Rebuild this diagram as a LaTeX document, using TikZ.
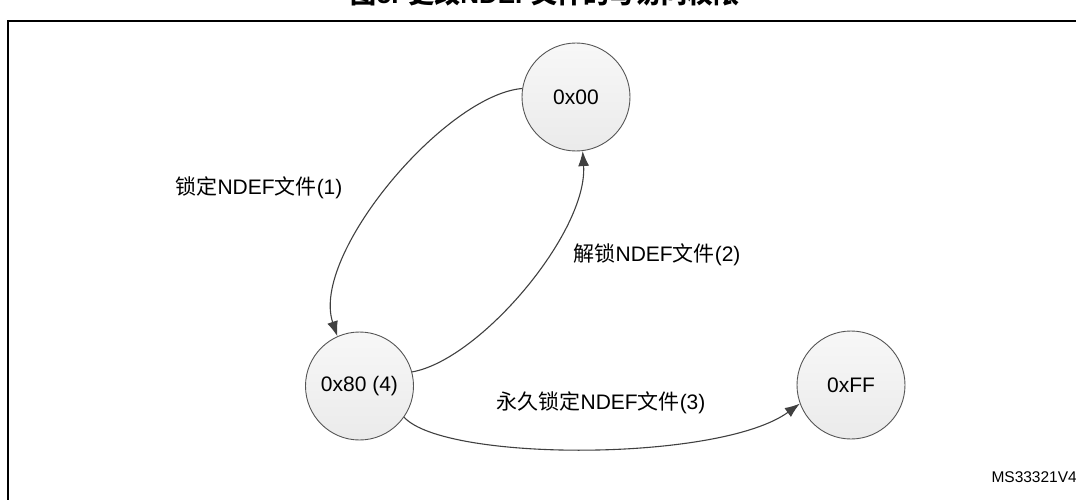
\documentclass[tikz,border=0pt]{standalone}
\usepackage{fontspec}
\setmainfont{Liberation Sans}
\newfontfamily\cjk{Noto Sans CJK SC}
\usetikzlibrary{arrows.meta}
\definecolor{edgegray}{HTML}{404040}
\definecolor{ringgray}{HTML}{555555}
\tikzset{
  state/.style={circle, draw=ringgray, line width=0.9pt, minimum size=108pt, inner sep=0pt,
    top color=gray!6, bottom color=gray!16, font=\fontsize{21}{24}\selectfont},
  trans/.style={draw=edgegray, line width=1.1pt, -{Latex[length=15pt,width=11pt]}},
  lbl/.style={font=\fontsize{21}{24}\selectfont, inner sep=0pt},
}
\begin{document}
\begin{tikzpicture}[x=1pt,y=-1pt]
\useasboundingbox (0,0) rectangle (1076,500);
% frame
\draw[line width=2.2pt] (8,520) -- (8,21) -- (1100,21);
% title (cut off at the top)
\node[anchor=base, inner sep=0pt, font=\fontsize{26}{30}\selectfont\bfseries] (title) at (545,4)
  {{\cjk 图}5. {\cjk 更改}NDEF{\cjk 文件的写访问权限}};
% states
\node[state] (s00) at (576,97) {0x00};
\node[state] (s80) at (359.5,386) {0x80 (4)};
\node[state] (sFF) at (851,385) {0xFF};
% transitions
\draw[trans] (s00.171) .. controls (445,95) and (310,255) .. (s80.114);
\draw[trans] (s80.15) .. controls (480,360) and (588,232) .. (s00.-83);
\draw[trans] (s80.-35) .. controls (445,462) and (720,462) .. (sFF.200);
% labels
\node[lbl] (l1) at (259,188) {{\cjk 锁定}NDEF{\cjk 文件}(1)};
\node[lbl] (l2) at (657,255) {{\cjk 解锁}NDEF{\cjk 文件}(2)};
\node[lbl] (l3) at (601,403) {{\cjk 永久锁定}NDEF{\cjk 文件}(3)};
\node[anchor=east, inner sep=0pt, font=\fontsize{15.5}{18}\selectfont] (ms) at (1077,477) {MS33321V4};
\end{tikzpicture}
\end{document}
